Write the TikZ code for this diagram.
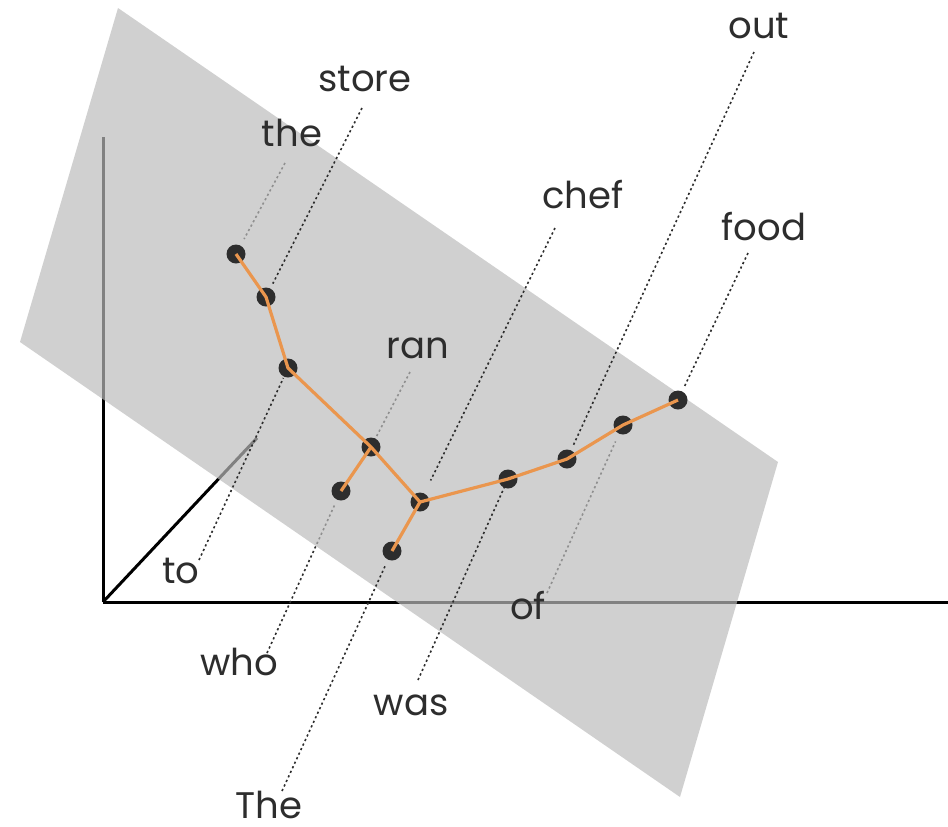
\documentclass[tikz,border=0pt]{standalone}
\usepackage{fontspec}
\setmainfont{Poppins}
\usetikzlibrary{calc}

\definecolor{planegray}{RGB}{187,187,187}
\definecolor{treeorange}{RGB}{234,150,78}
\definecolor{dotdark}{RGB}{45,45,45}
\definecolor{inkgray}{RGB}{45,45,45}

\tikzset{
  axis/.style={line width=1.5pt},
  plane/.style={fill=planegray, fill opacity=0.69},
  lead/.style={inkgray, line width=0.8pt, dash pattern=on 1.1pt off 1.4pt},
  tok/.style={circle, fill=dotdark, inner sep=0pt, outer sep=0pt, minimum size=9.5pt},
  treeedge/.style={treeorange, line width=1.6pt, line join=round},
  word/.style={inkgray, anchor=base, inner sep=0pt, font=\fontsize{18.5}{22}\selectfont},
}

\begin{document}
\begin{tikzpicture}[x=0.5pt, y=-0.5pt]
  \useasboundingbox (0,0) rectangle (948,826);
  % where the tokens sit on the plane
  \foreach \w/\px/\py in {the/236/254, store/266/297, to/288/368, ran/371/447,
      who/341/491, chef/420/502, The/392/551, was/508/479, out/567/459,
      of/623/425, food/678/400}
    \coordinate (p-\w) at (\px,\py);
  % where the leaders start, next to the words
  \foreach \w/\px/\py in {the/285/163, store/362/108, to/199/560, ran/410/372,
      who/267/653, chef/555/228, The/282/791, was/418/680, out/754/52,
      of/547/593, food/748/253}
    \coordinate (q-\w) at (\px,\py);

  % axes
  \coordinate (o) at (103,602);
  \draw[axis] (o) -- (103,137);
  \draw[axis] (o) -- (948,602);
  \draw[axis] (o) -- (257,438);

  % leaders that run under the plane
  \foreach \w/\s in {the/8.5pt, ran/4pt, who/7.5pt, of/9pt}
    \draw[lead, shorten >=\s] (q-\w) -- (p-\w);

  % the plane
  \fill[plane] (118,8) -- (778,462) -- (680,797) -- (20,342) -- cycle;

  % leaders above the plane
  \foreach \w/\s in {store/7.5pt, to/5.5pt, chef/12pt, The/8pt, was/4.5pt,
      out/6.5pt, food/7.5pt}
    \draw[lead, shorten >=\s] (q-\w) -- (p-\w);

  % tokens
  \foreach \w in {the,store,to,ran,who,chef,The,was,out,of,food}
    \node[tok] (d-\w) at (p-\w) {};

  % dependency tree
  \draw[treeedge] (d-the.center) -- (d-store.center) -- (d-to.center)
    -- (d-ran.center) -- (d-chef.center) -- (d-was.center)
    -- (d-out.center) -- (d-of.center) -- (d-food.center);
  \draw[treeedge] (d-who.center) -- (d-ran.center);
  \draw[treeedge] (d-The.center) -- (d-chef.center);

  % words
  \foreach \w/\px/\py in {the/292/146, store/365/91, to/181/583, ran/418/358,
      who/239/675, chef/583/208, The/269/818, was/411/715, out/759/38,
      of/528/619, food/764/240}
    \node[word] (w-\w) at (\px,\py) {\w};
\end{tikzpicture}
\end{document}
